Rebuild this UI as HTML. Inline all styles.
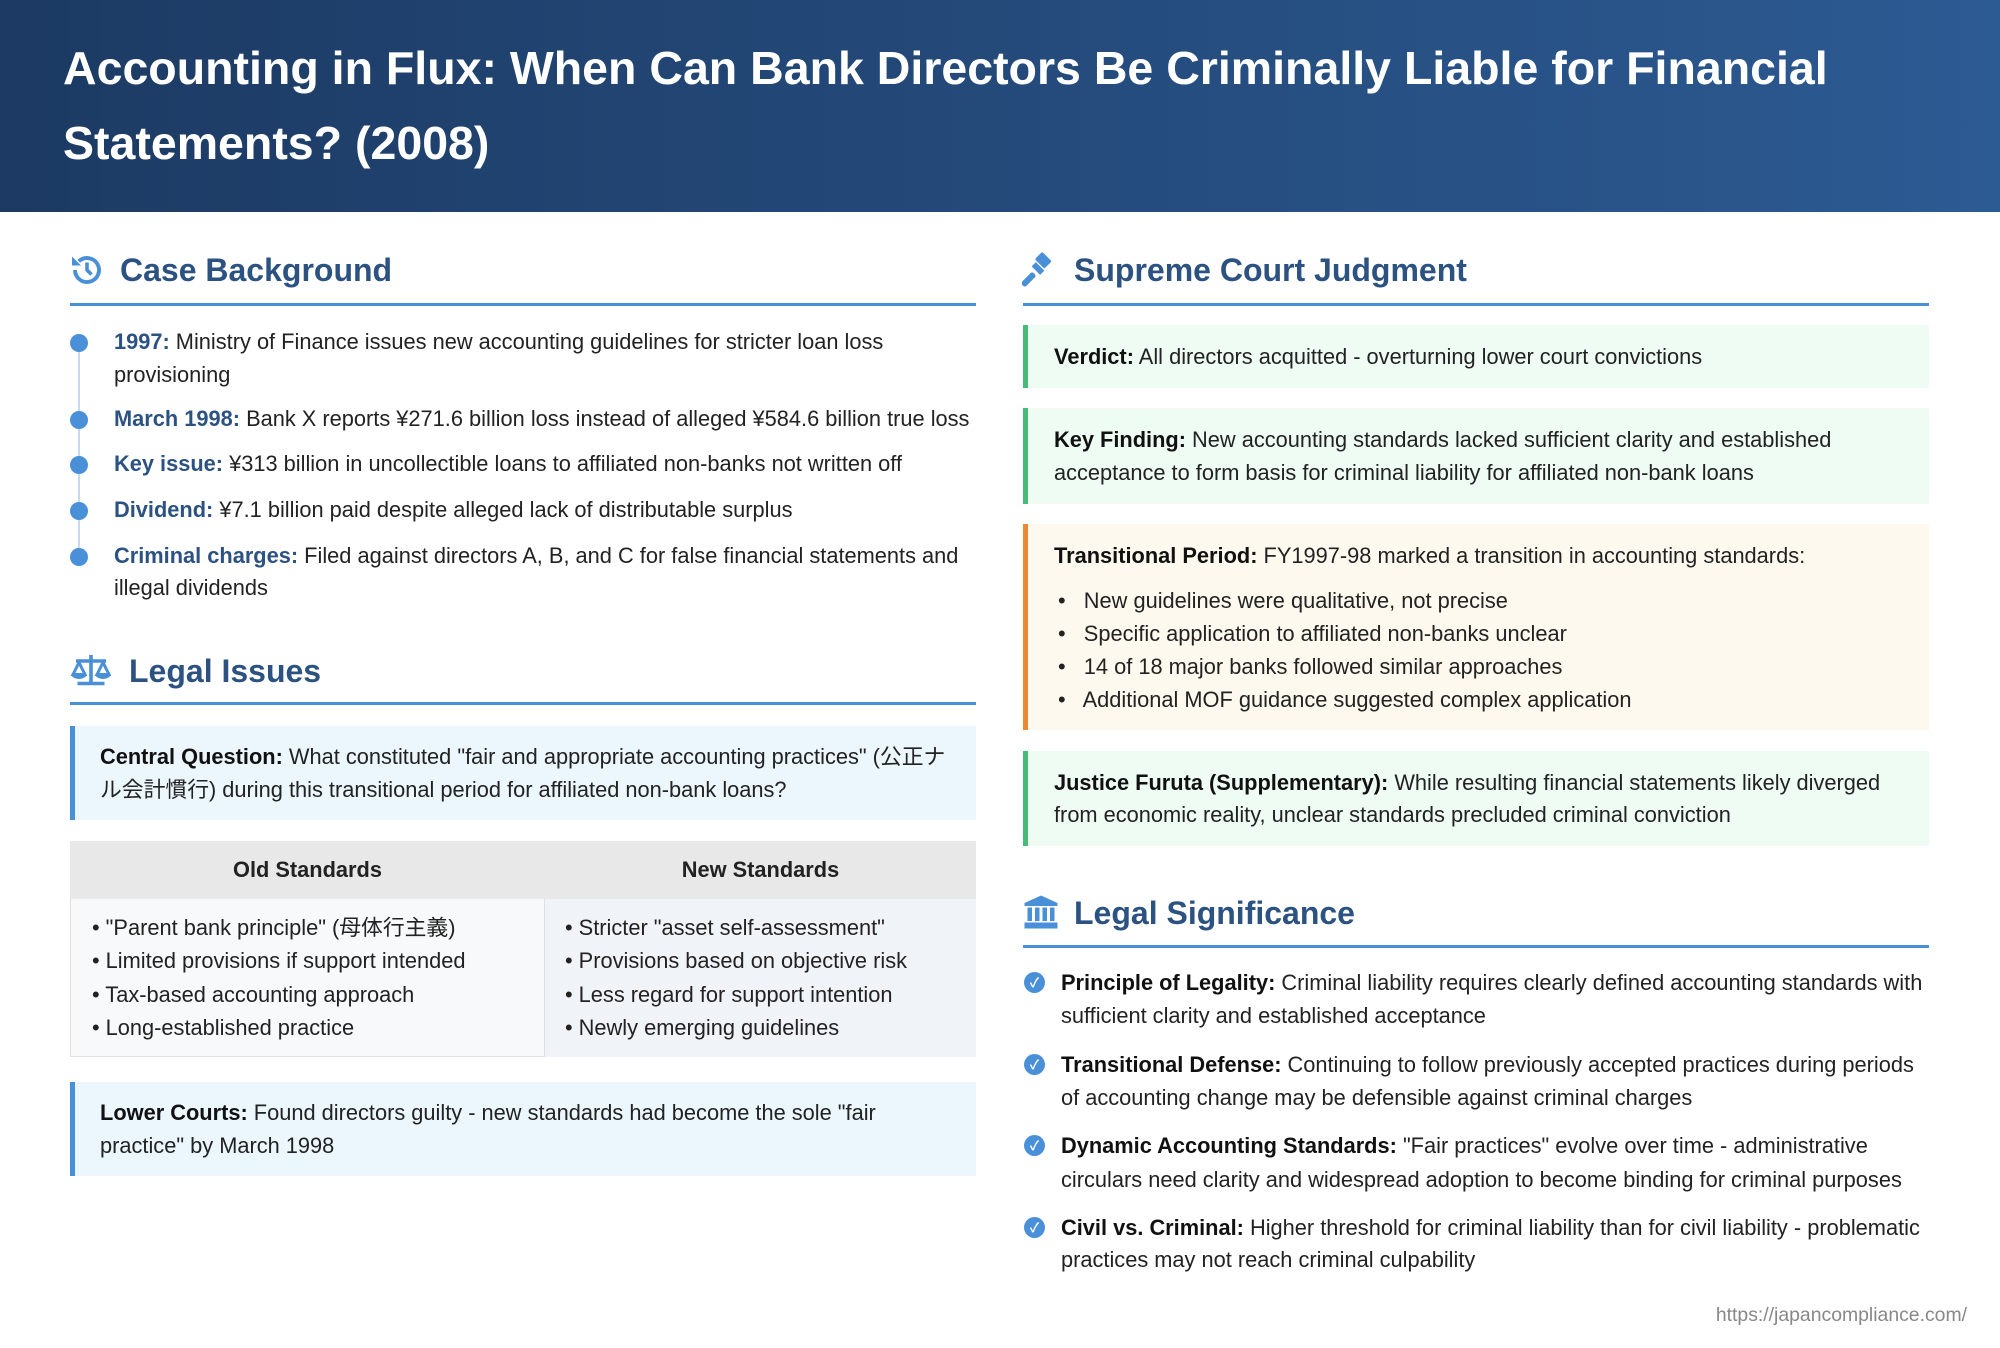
<!DOCTYPE html>
<html><head><meta charset="utf-8"><style>
*{margin:0;padding:0;box-sizing:border-box}
body{width:2000px;height:1348px;position:relative;background:#fff;font-family:"Liberation Sans","Noto Sans CJK JP",sans-serif;color:#222;overflow:hidden}
.a{position:absolute;white-space:nowrap}
.hdr{position:absolute;left:0;top:0;width:2000px;height:212px;background:linear-gradient(90deg,#1c3a63,#2c5a92)}
.t{position:absolute;left:63px;color:#fff;font-weight:bold;font-size:46.5px;line-height:60px;white-space:nowrap}
.h{position:absolute;font-size:32px;font-weight:bold;color:#2c5282;line-height:40px;white-space:nowrap}
.ul{position:absolute;height:3px;background:#4a90d9}
.tx{position:absolute;font-size:21.8px;line-height:33px;white-space:nowrap;color:#222}
.bl{color:#2c5282;font-weight:bold}
b{font-weight:bold;color:#111}
.box{position:absolute;border-left:5px solid}
.dot{position:absolute;width:18px;height:18px;border-radius:50%;background:#4a90d9}
.chk{position:absolute;width:21px;height:21px;border-radius:50%;background:#4a90d9;color:#fff;font-size:13px;line-height:21px;text-align:center;font-weight:bold}
</style></head><body>
<div class="hdr"></div>
<div class="t" style="top:38px">Accounting in Flux: When Can Bank Directors Be Criminally Liable for Financial</div>
<div class="t" style="top:113px">Statements? (2008)</div>

<svg class="a" style="left:68px;top:252px" width="38" height="36" viewBox="0 0 24 24"><path d="M4 12a8 8 0 1 0 2.5-5.8" fill="none" stroke="#4a90d9" stroke-width="2.6"/><path d="M2 3v6h6z" fill="#4a90d9"/><path d="M12 7v5l3 3" fill="none" stroke="#4a90d9" stroke-width="2.4"/></svg>
<div class="h" style="left:120px;top:250px">Case Background</div>
<div class="ul" style="left:70px;top:303px;width:906px"></div>
<div class="a" style="left:78px;top:342px;width:2px;height:215px;background:#c5d9ef"></div>
<div class="dot" style="left:70px;top:334px"></div>
<div class="dot" style="left:70px;top:411px"></div>
<div class="dot" style="left:70px;top:456px"></div>
<div class="dot" style="left:70px;top:502px"></div>
<div class="dot" style="left:70px;top:548px"></div>
<div class="tx" style="left:114px;top:325px"><span class="bl">1997:</span> Ministry of Finance issues new accounting guidelines for stricter loan loss</div>
<div class="tx" style="left:114px;top:358px">provisioning</div>
<div class="tx" style="left:114px;top:402px"><span class="bl">March 1998:</span> Bank X reports ¥271.6 billion loss instead of alleged ¥584.6 billion true loss</div>
<div class="tx" style="left:114px;top:447px"><span class="bl">Key issue:</span> ¥313 billion in uncollectible loans to affiliated non-banks not written off</div>
<div class="tx" style="left:114px;top:493px"><span class="bl">Dividend:</span> ¥7.1 billion paid despite alleged lack of distributable surplus</div>
<div class="tx" style="left:114px;top:539px"><span class="bl">Criminal charges:</span> Filed against directors A, B, and C for false financial statements and</div>
<div class="tx" style="left:114px;top:571px">illegal dividends</div>

<svg class="a" style="left:69px;top:652px" width="44" height="36" viewBox="0 0 28 24"><path d="M14 2v19M5 21h18M4 6h20" stroke="#4a90d9" stroke-width="2.4" fill="none"/><path d="M6 7l-4 8h8zM22 7l-4 8h8z" fill="none" stroke="#4a90d9" stroke-width="2"/><path d="M1 15a5 3 0 0 0 10 0zM17 15a5 3 0 0 0 10 0z" fill="#4a90d9"/></svg>
<div class="h" style="left:129px;top:651px">Legal Issues</div>
<div class="ul" style="left:70px;top:702px;width:906px"></div>
<div class="box" style="left:70px;top:726px;width:906px;height:94px;background:#ebf6fd;border-color:#4a90d9"></div>
<div class="tx" style="left:100px;top:740px"><b>Central Question:</b> What constituted "fair and appropriate accounting practices" (公正ナ</div>
<div class="tx" style="left:100px;top:773px">ル会計慣行) during this transitional period for affiliated non-bank loans?</div>
<div class="a" style="left:70px;top:841px;width:906px;height:216px;border:1px solid #e0e0e0;background:#f8f9fa"></div>
<div class="a" style="left:545px;top:899px;width:431px;height:158px;background:#f0f3f8"></div>
<div class="a" style="left:70px;top:841px;width:906px;height:58px;background:#e8e8e8"></div>
<div class="a" style="left:544px;top:899px;width:1px;height:158px;background:#e0e0e0"></div>
<div class="tx" style="left:70px;top:853px;width:475px;text-align:center;font-weight:bold">Old Standards</div>
<div class="tx" style="left:545px;top:853px;width:431px;text-align:center;font-weight:bold">New Standards</div>
<div class="tx" style="left:92px;top:911px">• "Parent bank principle" (母体行主義)</div>
<div class="tx" style="left:92px;top:944px">• Limited provisions if support intended</div>
<div class="tx" style="left:92px;top:978px">• Tax-based accounting approach</div>
<div class="tx" style="left:92px;top:1011px">• Long-established practice</div>
<div class="tx" style="left:565px;top:911px">• Stricter "asset self-assessment"</div>
<div class="tx" style="left:565px;top:944px">• Provisions based on objective risk</div>
<div class="tx" style="left:565px;top:978px">• Less regard for support intention</div>
<div class="tx" style="left:565px;top:1011px">• Newly emerging guidelines</div>
<div class="box" style="left:70px;top:1082px;width:906px;height:94px;background:#ebf6fd;border-color:#4a90d9"></div>
<div class="tx" style="left:100px;top:1096px"><b>Lower Courts:</b> Found directors guilty - new standards had become the sole "fair</div>
<div class="tx" style="left:100px;top:1129px">practice" by March 1998</div>

<svg class="a" style="left:1022px;top:252px" width="38" height="36" viewBox="0 0 24 24"><g fill="#4a90d9"><rect x="9" y="2" width="9" height="7" rx="1" transform="rotate(45 13.5 5.5)"/><rect x="2" y="13" width="4" height="11" rx="1.5" transform="rotate(45 4 18)"/><rect x="6" y="9" width="8" height="4" transform="rotate(45 10 11)"/></g></svg>
<div class="h" style="left:1074px;top:250px">Supreme Court Judgment</div>
<div class="ul" style="left:1023px;top:303px;width:906px"></div>
<div class="box" style="left:1023px;top:325px;width:906px;height:63px;background:#effcf3;border-color:#48bb78"></div>
<div class="tx" style="left:1054px;top:340px"><b>Verdict:</b> All directors acquitted - overturning lower court convictions</div>
<div class="box" style="left:1023px;top:408px;width:906px;height:96px;background:#effcf3;border-color:#48bb78"></div>
<div class="tx" style="left:1054px;top:423px"><b>Key Finding:</b> New accounting standards lacked sufficient clarity and established</div>
<div class="tx" style="left:1054px;top:456px">acceptance to form basis for criminal liability for affiliated non-bank loans</div>
<div class="box" style="left:1023px;top:524px;width:906px;height:206px;background:#fef9ee;border-color:#ed8936"></div>
<div class="tx" style="left:1054px;top:539px"><b>Transitional Period:</b> FY1997-98 marked a transition in accounting standards:</div>
<div class="tx" style="left:1058px;top:584px">•&nbsp;&nbsp; New guidelines were qualitative, not precise</div>
<div class="tx" style="left:1058px;top:617px">•&nbsp;&nbsp; Specific application to affiliated non-banks unclear</div>
<div class="tx" style="left:1058px;top:650px">•&nbsp;&nbsp; 14 of 18 major banks followed similar approaches</div>
<div class="tx" style="left:1058px;top:683px">•&nbsp;&nbsp; Additional MOF guidance suggested complex application</div>
<div class="box" style="left:1023px;top:751px;width:906px;height:95px;background:#effcf3;border-color:#48bb78"></div>
<div class="tx" style="left:1054px;top:766px"><b>Justice Furuta (Supplementary):</b> While resulting financial statements likely diverged</div>
<div class="tx" style="left:1054px;top:798px">from economic reality, unclear standards precluded criminal conviction</div>

<svg class="a" style="left:1023px;top:894px" width="36" height="36" viewBox="0 0 24 24"><g fill="#4a90d9"><path d="M12 1L1 6v2h22V6z"/><rect x="3" y="9" width="3" height="9"/><rect x="8" y="9" width="3" height="9"/><rect x="13" y="9" width="3" height="9"/><rect x="18" y="9" width="3" height="9"/><rect x="1" y="19" width="22" height="4"/></g></svg>
<div class="h" style="left:1074px;top:893px">Legal Significance</div>
<div class="ul" style="left:1023px;top:945px;width:906px"></div>
<div class="chk" style="left:1024px;top:972px">✓</div>
<div class="chk" style="left:1024px;top:1054px">✓</div>
<div class="chk" style="left:1024px;top:1135px">✓</div>
<div class="chk" style="left:1024px;top:1217px">✓</div>
<div class="tx" style="left:1061px;top:966px"><b>Principle of Legality:</b> Criminal liability requires clearly defined accounting standards with</div>
<div class="tx" style="left:1061px;top:999px">sufficient clarity and established acceptance</div>
<div class="tx" style="left:1061px;top:1048px"><b>Transitional Defense:</b> Continuing to follow previously accepted practices during periods</div>
<div class="tx" style="left:1061px;top:1081px">of accounting change may be defensible against criminal charges</div>
<div class="tx" style="left:1061px;top:1129px"><b>Dynamic Accounting Standards:</b> "Fair practices" evolve over time - administrative</div>
<div class="tx" style="left:1061px;top:1163px">circulars need clarity and widespread adoption to become binding for criminal purposes</div>
<div class="tx" style="left:1061px;top:1211px"><b>Civil vs. Criminal:</b> Higher threshold for criminal liability than for civil liability - problematic</div>
<div class="tx" style="left:1061px;top:1243px">practices may not reach criminal culpability</div>

<div class="a" style="right:33px;top:1304px;font-size:19.4px;color:#888">https://japancompliance.com/</div>
</body></html>
